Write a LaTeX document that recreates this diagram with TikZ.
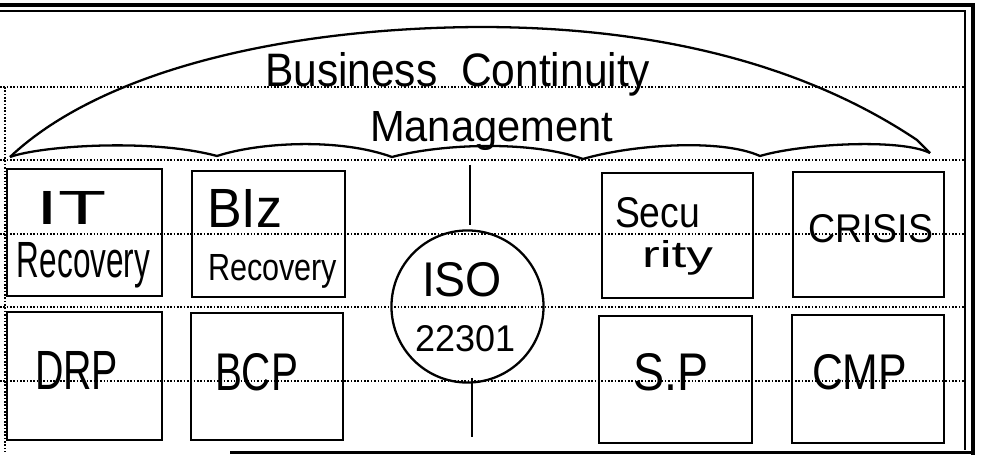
\documentclass[tikz,border=0pt]{standalone}
\usepackage{graphicx}
\usepackage{fontspec}
\setmainfont{Liberation Sans}
\newcommand{\hwtext}[3]{\resizebox{#1cm}{#2cm}{#3}}
\begin{document}
\begin{tikzpicture}[x=0.01cm,y=-0.01cm,
  dotline/.style={line width=0.45pt, dash pattern=on 0.45pt off 0.5pt, black},
  pen/.style={line width=0.65pt, black},
  box/.style={draw, line width=0.6pt, rectangle, inner sep=0pt},
  ring/.style={draw, line width=0.65pt, circle, inner sep=0pt},
  lbl/.style={anchor=base west, inner sep=0pt, outer sep=0pt}]
\useasboundingbox (0,0) rectangle (1000,455);
\fill[white] (0,0) rectangle (1000,455);
% frame
\draw[line width=0.9pt] (0,5) -- (973,5) -- (973,455);
\draw[line width=0.4pt] (0,11) -- (965,11) -- (965,450);
\draw[line width=0.8pt] (230,452.5) -- (973,452.5);
% ruled dotted lines
\foreach \yy in {87,160,234,307,381} {\draw[dotline] (0,\yy) -- (965,\yy);}
\draw[dotline] (5,87) -- (5,452);
% umbrella
\draw[pen] (10,157) .. controls (100,72) and (280,28) .. (480,27)
  .. controls (680,27) and (820,75) .. (917,140) -- (930,153);
\draw[pen] (10,157) .. controls (40,146) and (150,138) .. (217,156)
  .. controls (260,142) and (340,138) .. (392,157)
  .. controls (440,144) and (530,140) .. (583,159)
  .. controls (630,145) and (720,138) .. (760,156)
  .. controls (800,144) and (900,138) .. (930,153);
% title
\node[lbl] (t1) at (265,87) {\hwtext{3.85}{0.34}{Business\ \ Continuity}};
\node[lbl] (t2) at (370,142) {\hwtext{2.43}{0.30}{Management}};
% boxes
\node[box, minimum width=1.55cm, minimum height=1.27cm] (itbox) at (84.5,232.5) {};
\node[box, minimum width=1.53cm, minimum height=1.26cm] (bizbox) at (268.5,234) {};
\node[box, minimum width=1.55cm, minimum height=1.28cm] (drpbox) at (84.5,376) {};
\node[box, minimum width=1.52cm, minimum height=1.27cm] (bcpbox) at (267,376.5) {};
\node[box, minimum width=1.51cm, minimum height=1.25cm] (secbox) at (677.5,235.5) {};
\node[box, minimum width=1.51cm, minimum height=1.25cm] (crisisbox) at (868.5,234.5) {};
\node[box, minimum width=1.53cm, minimum height=1.27cm] (spbox) at (675.5,379.5) {};
\node[box, minimum width=1.52cm, minimum height=1.28cm] (cmpbox) at (868,379) {};
\node[ring, minimum size=1.52cm] (iso) at (467.5,306.5) {};
% vertical connectors
\coordinate (vt1) at (470,165);
\coordinate (vt2) at (470,225);
\coordinate (vb1) at (472,378);
\coordinate (vb2) at (472,437);
\draw[pen] (vt1) -- (vt2);
\draw[pen] (vb1) -- (vb2);
% labels
\node[lbl] (it1) at (37,225) {\hwtext{0.70}{0.33}{IT}};
\node[lbl] (it2) at (17,278) {\hwtext{1.33}{0.35}{Recovery}};
\node[lbl] (biz1) at (207,228) {\hwtext{0.75}{0.38}{BIz}};
\node[lbl] (biz2) at (208,281) {\hwtext{1.29}{0.26}{Recovery}};
\node[lbl] (drp) at (35,390) {\hwtext{0.83}{0.38}{DRP}};
\node[lbl] (bcp) at (215,390) {\hwtext{0.83}{0.37}{BCP}};
\node[lbl] (iso1) at (422,297) {\hwtext{0.80}{0.34}{ISO}};
\node[lbl] (iso2) at (415,352) {\hwtext{1.00}{0.26}{22301}};
\node[lbl] (sec1) at (615,228) {\hwtext{0.85}{0.30}{Secu}};
\node[lbl] (sec2) at (642,268) {\hwtext{0.71}{0.27}{rity}};
\node[lbl] (crisis) at (808,243) {\hwtext{1.25}{0.28}{CRISIS}};
\node[lbl] (sp) at (633,390) {\hwtext{0.75}{0.37}{S.P}};
\node[lbl] (cmp) at (812,390) {\hwtext{0.95}{0.35}{CMP}};
\end{tikzpicture}
\end{document}
